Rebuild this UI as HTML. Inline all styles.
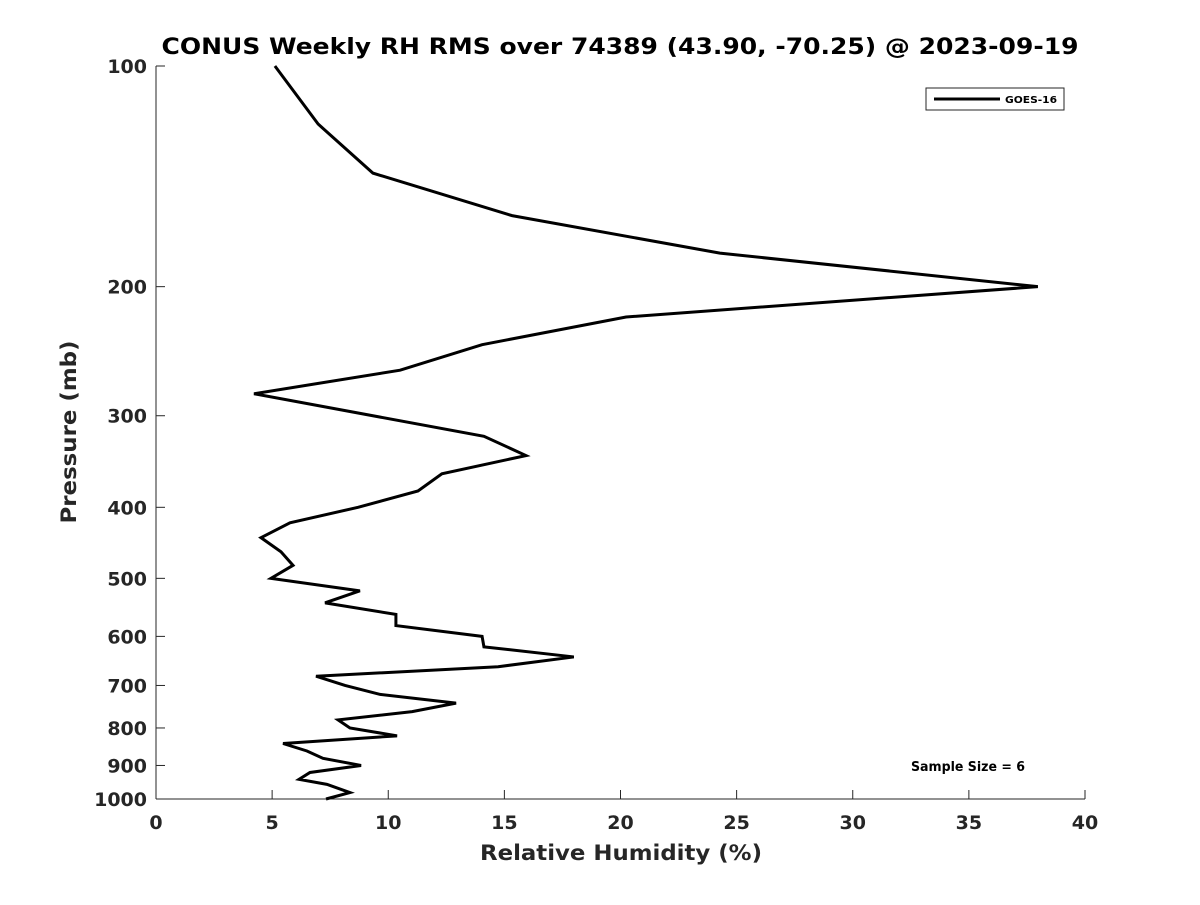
<!DOCTYPE html>
<html><head><meta charset="utf-8"><style>
body{margin:0;background:#fff;}
svg text{font-family:"DejaVu Sans","Liberation Sans",sans-serif;font-weight:bold;fill:#262626;}
</style></head><body>
<svg width="1200" height="900" id="chart">
<text x="620" y="54" text-anchor="middle" font-size="22" textLength="917" lengthAdjust="spacingAndGlyphs" style="fill:#000">CONUS Weekly RH RMS over 74389 (43.90, -70.25) @ 2023-09-19</text>
<g id="axes"></g>
<g id="series"></g>
<g>
<rect x="926" y="88" width="138" height="22" fill="#fff" stroke="#262626" stroke-width="1"/>
<line x1="934" y1="99" x2="1000" y2="99" stroke="#000" stroke-width="3"/>
<text x="1005" y="103" font-size="10" textLength="52" lengthAdjust="spacingAndGlyphs" style="fill:#000">GOES-16</text>
</g>
<text x="968" y="771" text-anchor="middle" font-size="13" textLength="114" lengthAdjust="spacingAndGlyphs" style="fill:#000">Sample Size = 6</text>
<text x="621" y="860" text-anchor="middle" font-size="21" textLength="282" lengthAdjust="spacingAndGlyphs">Relative Humidity (%)</text>
<text transform="translate(76,432) rotate(-90)" text-anchor="middle" font-size="21" textLength="183" lengthAdjust="spacingAndGlyphs">Pressure (mb)</text>
</svg>
<script>
const rhValues=[5.12,6.98,9.34,15.33,24.28,37.97,20.24,14.04,10.51,4.22,14.12,15.93,12.31,11.28,8.70,5.77,4.52,5.38,5.90,4.95,8.78,7.28,10.33,10.33,14.04,14.12,17.99,14.73,6.89,8.14,9.65,12.92,11.03,7.84,8.35,10.38,5.47,6.50,7.19,8.83,6.63,6.16,7.36,8.35,7.32];
const pressures=[100,120,140,160,180,200,220,240,260,280,320,340,360,380,400,420,440,460,480,500,520,540,560,580,600,620,640,660,680,700,720,740,760,780,800,820,840,860,880,900,920,940,955,980,1000];
const xTicks=[0,5,10,15,20,25,30,35,40];
const yTicks=[100,200,300,400,500,600,700,800,900,1000];
const X0=156,X1=1085,Y0=66,Y1=799;
const xs=v=>X0+(v/40)*(X1-X0);
const ys=p=>Y0+(Math.log10(p)-2)*(Y1-Y0);
const NS="http://www.w3.org/2000/svg";
const ax=document.getElementById('axes');
function mk(t,a,parent){const e=document.createElementNS(NS,t);for(const k in a)e.setAttribute(k,a[k]);parent.appendChild(e);return e;}
const yl=mk('line',{x1:X0,y1:Y0,x2:X0,y2:Y1,stroke:'#262626','stroke-width':1},ax);


const xl=mk('line',{x1:X0,y1:Y1,x2:X1,y2:Y1,stroke:'#262626','stroke-width':1},ax);


xTicks.forEach(v=>{
 mk('line',{x1:xs(v),y1:Y1,x2:xs(v),y2:Y1-9,stroke:'#262626'},ax);
 const t=mk('text',{x:xs(v),y:Y1+30,'text-anchor':'middle','font-size':19},ax);t.textContent=v;
 
 
});
yTicks.forEach(p=>{
 mk('line',{x1:X0,y1:ys(p),x2:X0+9,y2:ys(p),stroke:'#262626'},ax);
 const t=mk('text',{x:X0-9,y:ys(p)+7,'text-anchor':'end','font-size':19},ax);t.textContent=p;
 
 
});
const pts=rhValues.map((v,i)=>xs(v)+','+ys(pressures[i])).join(' ');
const pl=mk('polyline',{points:pts,fill:'none',stroke:'#000','stroke-width':3,'stroke-linejoin':'miter'},document.getElementById('series'));


</script>
</body></html>
